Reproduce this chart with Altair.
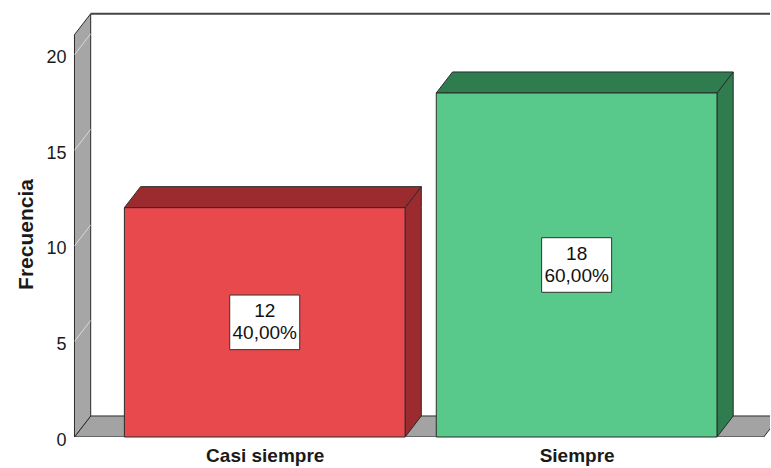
import json

import altair as alt
import pandas as pd

# ---- data -------------------------------------------------------------
categories = ["Casi siempre", "Siempre"]
counts = [12, 18]
tick_values = [0, 5, 10, 15, 20]

total = sum(counts)
box_labels = [f"{c}\n{c / total * 100:.2f}%".replace(".", ",") for c in counts]

# ---- pseudo-3D geometry (data units) ----------------------------------
HALF = 0.45        # half bar width, in category units
DX = 0.052         # depth offset, horizontal (category units)
DY = 1.1           # depth offset, vertical (frequency units)
FLOOR_L = -0.61    # left end of floor / wall position
FLOOR_R = 1.60     # right end of floor
WALL_TOP = 21.05   # top of the left wall (front edge)
X_DOMAIN = [-0.65, 1.62]
Y_DOMAIN = [0, 22.5]

FONT = "Liberation Sans"
EDGE = "#2b2b2b"

xs = alt.Scale(domain=X_DOMAIN, nice=False, zero=False)
ys = alt.Scale(domain=Y_DOMAIN, nice=False, zero=False)
front_scale = alt.Scale(domain=categories, range=["#E8494C", "#58C98B"])
dark_scale = alt.Scale(domain=categories, range=["#9B2B2E", "#2F7D4F"])

x_axis = alt.Axis(
    values=list(range(len(categories))),
    labelExpr=f"{json.dumps(categories)}[datum.value]",
    domain=False, ticks=False, grid=False,
    labelFont=FONT, labelFontSize=19, labelFontWeight="bold",
    labelColor="#1a1a1a", labelPadding=9,
)
y_axis = alt.Axis(
    values=tick_values, domain=False, ticks=False, grid=False,
    offset=-4, labelPadding=0, labelOffset=3,
    labelFont=FONT, labelFontSize=18, labelColor="#1a1a1a",
    titleFont=FONT, titleFontSize=21, titleFontWeight="bold",
    titleColor="#1a1a1a", titlePadding=9, titleY=227,
)


def X(field):
    return alt.X(f"{field}:Q", scale=xs, axis=x_axis, title=None)


def Y(field):
    return alt.Y(f"{field}:Q", scale=ys, axis=y_axis, title="Frecuencia")


bars = pd.DataFrame({
    "cat": categories,
    "count": counts,
    "pos": list(range(len(categories))),
    "label": box_labels,
})
bars["xl"] = bars["pos"] - HALF
bars["xr"] = bars["pos"] + HALF
bars["mid"] = bars["count"] / 2

# top faces: parallelograms with horizontal edges (x runs, y..y2 band);
# side faces: parallelograms with vertical edges (y runs, x..x2 band)
top_rows, side_rows = [], []
for cat, pos, h in zip(categories, bars["pos"], counts):
    xl, xr = pos - HALF, pos + HALF
    for x, y, y2 in [(xl, h, h), (xl + DX, h + DY, h), (xr, h + DY, h), (xr + DX, h + DY, h + DY)]:
        top_rows.append({"cat": cat, "x": x, "y": y, "y2": y2})
    for y, x, x2 in [(0, xr, xr), (DY, xr, xr + DX), (h, xr, xr + DX), (h + DY, xr + DX, xr + DX)]:
        side_rows.append({"cat": cat, "y": y, "x": x, "x2": x2})
tops = pd.DataFrame(top_rows)
sides = pd.DataFrame(side_rows)

floor = pd.DataFrame({
    "x": [FLOOR_L, FLOOR_L + DX, FLOOR_R, FLOOR_R + DX],
    "y": [0, DY, DY, DY],
    "y2": [0, 0, 0, DY],
})
wall = pd.DataFrame({
    "y": [0, DY, WALL_TOP, WALL_TOP + DY],
    "x": [FLOOR_L, FLOOR_L, FLOOR_L, FLOOR_L + DX],
    "x2": [FLOOR_L, FLOOR_L + DX, FLOOR_L + DX, FLOOR_L + DX],
})
grid = pd.DataFrame({"v": tick_values[1:]})
grid["x"] = FLOOR_L
grid["x2"] = FLOOR_L + DX
grid["v2"] = grid["v"] + DY
back = pd.DataFrame({"x": [FLOOR_L + DX], "x2": [X_DOMAIN[1]], "y": [WALL_TOP + DY]})

# ---- layers -----------------------------------------------------------
floor_layer = alt.Chart(floor).mark_area(
    orient="vertical", color="#A3A3A3", stroke=EDGE, strokeWidth=1, clip=True
).encode(x=X("x"), y=Y("y"), y2="y2:Q")

wall_layer = alt.Chart(wall).mark_area(
    orient="horizontal", color="#A6A6A6", stroke=EDGE, strokeWidth=1
).encode(y=Y("y"), x=X("x"), x2="x2:Q")

grid_layer = alt.Chart(grid).mark_rule(
    color="#E6E6E6", strokeWidth=1, opacity=0.8
).encode(x=X("x"), x2="x2:Q", y=Y("v"), y2="v2:Q")

back_layer = alt.Chart(back).mark_rule(
    color="#444444", strokeWidth=2, clip=True
).encode(x=X("x"), x2="x2:Q", y=Y("y"))

side_layer = alt.Chart(sides).mark_area(
    orient="horizontal", stroke=EDGE, strokeWidth=1, opacity=1
).encode(
    y=Y("y"), x=X("x"), x2="x2:Q",
    fill=alt.Fill("cat:N", scale=dark_scale, legend=None),
)

top_layer = alt.Chart(tops).mark_area(
    orient="vertical", stroke=EDGE, strokeWidth=1, opacity=1
).encode(
    x=X("x"), y=Y("y"), y2="y2:Q",
    fill=alt.Fill("cat:N", scale=dark_scale, legend=None),
)

front_layer = alt.Chart(bars).mark_rect(stroke=EDGE, strokeWidth=1).encode(
    x=X("xl"), x2="xr:Q",
    y=Y("count"), y2=alt.datum(0),
    fill=alt.Fill("cat:N", scale=front_scale, legend=None),
)

box_layer = alt.Chart(bars).mark_point(
    shape="M-1,-0.78L1,-0.78L1,0.78L-1,0.78Z", size=4900,
    filled=True, fill="white", stroke="#333333", strokeWidth=1, opacity=1,
).encode(x=X("pos"), y=Y("mid"))

text_layer = alt.Chart(bars).mark_text(
    font=FONT, fontSize=19, lineHeight=22, lineBreak="\n", dy=-11,
    align="center", baseline="middle", color="#111111",
).encode(x=X("pos"), y=Y("mid"), text="label:N")

chart = alt.layer(
    floor_layer, wall_layer, grid_layer, back_layer,
    side_layer, top_layer, front_layer, box_layer, text_layer,
).resolve_scale(fill="independent").properties(
    width=708,
    height=430,
    padding={"left": 62, "top": 7, "right": 1, "bottom": 31},
    autosize=alt.AutoSizeParams(type="none"),
    background="white",
).configure_view(stroke=None)

chart.save("out.html", embed_options={"renderer": "svg", "actions": False})
